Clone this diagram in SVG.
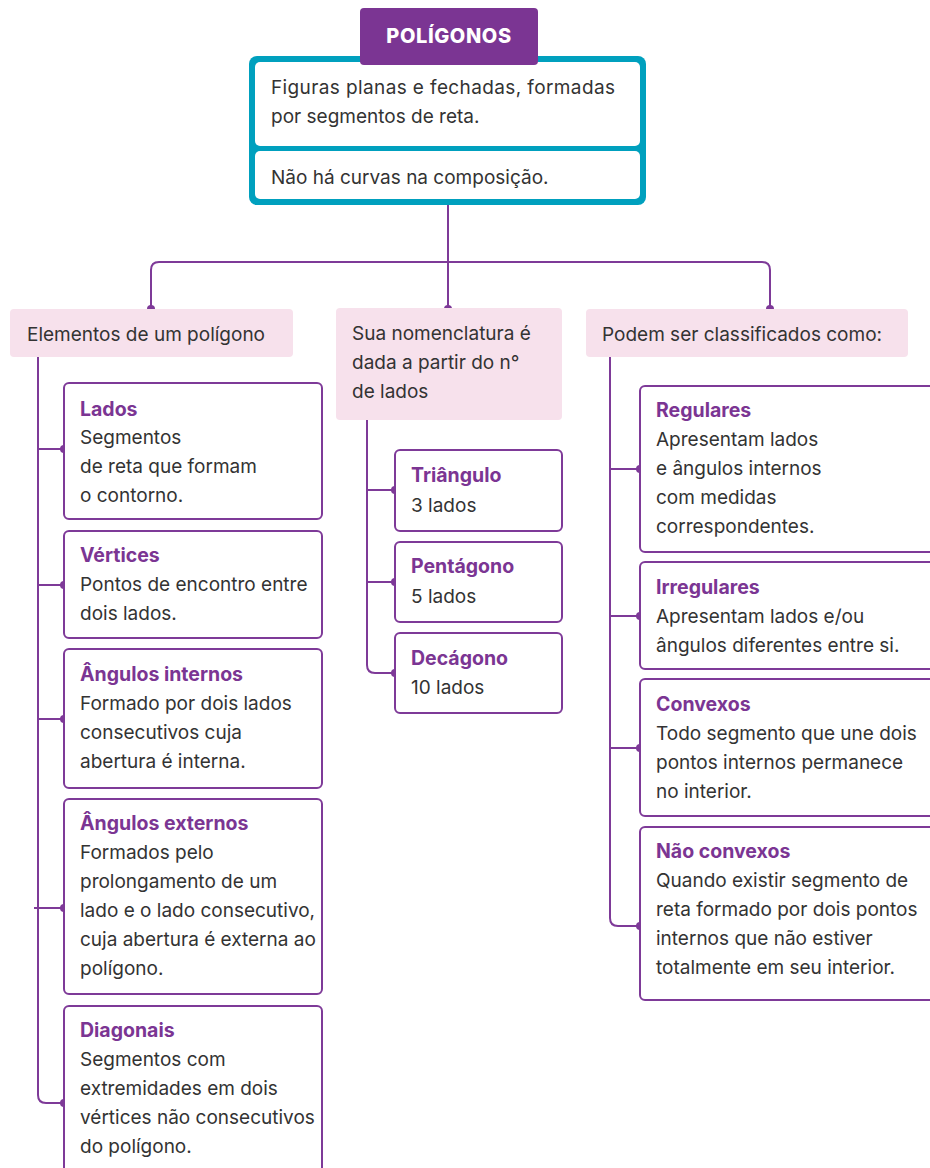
<svg xmlns="http://www.w3.org/2000/svg" width="930" height="1168" viewBox="0 0 930 1168">
<style>
.t{font-family:Inter,"Noto Sans",sans-serif;font-size:19px;fill:#333333}
.h{font-family:Inter,"Noto Sans",sans-serif;font-size:19.5px;font-weight:700;fill:#7B3593}
.box{fill:#ffffff;stroke:#7E3A98;stroke-width:2}
.pink{fill:#F7E1EC}
.ln{fill:none;stroke:#7E3A98;stroke-width:2}
.dot{fill:#7E3A98}
</style>
<rect width="930" height="1168" fill="#ffffff"/>
<g id="connectors">
<path class="ln" d="M448 205 V262 M151 309 V270 Q151 262 159 262 H762 Q770 262 770 270 V309 M448 262 V309"/>
<circle class="dot" cx="151" cy="309" r="4"/>
<circle class="dot" cx="448" cy="309" r="4"/>
<circle class="dot" cx="770" cy="309" r="4"/>
<path class="ln" d="M38 357 V1095 Q38 1103 46 1103 H64 M38 449 H64 M38 585 H64 M38 719 H64 M34 908 H64"/>
<circle class="dot" cx="64" cy="449" r="4"/>
<circle class="dot" cx="64" cy="585" r="4"/>
<circle class="dot" cx="64" cy="719" r="4"/>
<circle class="dot" cx="64" cy="908" r="4"/>
<circle class="dot" cx="64" cy="1103" r="4"/>
<path class="ln" d="M367 420 V665 Q367 673 375 673 H395 M367 490 H395 M367 582 H395"/>
<circle class="dot" cx="395" cy="490" r="4"/>
<circle class="dot" cx="395" cy="582" r="4"/>
<circle class="dot" cx="395" cy="673" r="4"/>
<path class="ln" d="M610 357 V918 Q610 926 618 926 H640 M610 469 H640 M610 616 H640 M610 748 H640"/>
<circle class="dot" cx="640" cy="469" r="4"/>
<circle class="dot" cx="640" cy="616" r="4"/>
<circle class="dot" cx="640" cy="748" r="4"/>
<circle class="dot" cx="640" cy="926" r="4"/>
</g>
<g id="poligonos">
<rect x="249" y="56" width="397" height="149" rx="8" fill="#00A0BE"/>
<rect x="255" y="62" width="385" height="84" rx="5" fill="#ffffff"/>
<rect x="255" y="151" width="385" height="48" rx="5" fill="#ffffff"/>
<rect x="360" y="8" width="178" height="57" rx="4" fill="#7B3593"/>
<text x="449" y="43" text-anchor="middle" style="font-family:Inter,'Noto Sans',sans-serif;font-size:20px;font-weight:800;fill:#ffffff;letter-spacing:0.6px">POLÍGONOS</text>
<text class="t" x="271" y="94" textLength="344">Figuras planas e fechadas, formadas</text>
<text class="t" x="271" y="123">por segmentos de reta.</text>
<text class="t" x="271" y="184">Não há curvas na composição.</text>
</g>
<g id="elementos">
<rect class="pink" x="10" y="309" width="283" height="48" rx="4"/>
<text class="t" x="27" y="341">Elementos de um polígono</text>
</g>
<g id="lados">
<rect class="box" x="64" y="383" width="258" height="136" rx="5"/>
<text class="h" x="80" y="416">Lados</text>
<text class="t" x="80" y="444">Segmentos</text>
<text class="t" x="80" y="473">de reta que formam</text>
<text class="t" x="80" y="502">o contorno.</text>
</g>
<g id="vertices">
<rect class="box" x="64" y="531" width="258" height="107" rx="5"/>
<text class="h" x="80" y="562">Vértices</text>
<text class="t" x="80" y="591">Pontos de encontro entre</text>
<text class="t" x="80" y="620">dois lados.</text>
</g>
<g id="angulos-internos">
<rect class="box" x="64" y="649" width="258" height="139" rx="5"/>
<text class="h" x="80" y="681">Ângulos internos</text>
<text class="t" x="80" y="710">Formado por dois lados</text>
<text class="t" x="80" y="739">consecutivos cuja</text>
<text class="t" x="80" y="768">abertura é interna.</text>
</g>
<g id="angulos-externos">
<rect class="box" x="64" y="799" width="258" height="195" rx="5"/>
<text class="h" x="80" y="830">Ângulos externos</text>
<text class="t" x="80" y="859">Formados pelo</text>
<text class="t" x="80" y="888">prolongamento de um</text>
<text class="t" x="80" y="917">lado e o lado consecutivo,</text>
<text class="t" x="80" y="946">cuja abertura é externa ao</text>
<text class="t" x="80" y="975">polígono.</text>
</g>
<g id="diagonais">
<rect class="box" x="64" y="1006" width="258" height="180" rx="5"/>
<text class="h" x="80" y="1037">Diagonais</text>
<text class="t" x="80" y="1066">Segmentos com</text>
<text class="t" x="80" y="1095">extremidades em dois</text>
<text class="t" x="80" y="1124">vértices não consecutivos</text>
<text class="t" x="80" y="1153">do polígono.</text>
</g>
<g id="nomenclatura">
<rect class="pink" x="336" y="308" width="226" height="112" rx="4"/>
<text class="t" x="352" y="340">Sua nomenclatura é</text>
<text class="t" x="352" y="369">dada a partir do n°</text>
<text class="t" x="352" y="398">de lados</text>
</g>
<g id="triangulo">
<rect class="box" x="395" y="450" width="167" height="81" rx="5"/>
<text class="h" x="411" y="482">Triângulo</text>
<text class="t" x="411" y="512">3 lados</text>
</g>
<g id="pentagono">
<rect class="box" x="395" y="542" width="167" height="80" rx="5"/>
<text class="h" x="411" y="573">Pentágono</text>
<text class="t" x="411" y="603">5 lados</text>
</g>
<g id="decagono">
<rect class="box" x="395" y="633" width="167" height="80" rx="5"/>
<text class="h" x="411" y="665">Decágono</text>
<text class="t" x="411" y="694">10 lados</text>
</g>
<g id="classificados">
<rect class="pink" x="586" y="309" width="322" height="48" rx="4"/>
<text class="t" x="602" y="341">Podem ser classificados como:</text>
</g>
<g id="regulares">
<rect class="box" x="640" y="386" width="300" height="166" rx="5"/>
<text class="h" x="656" y="417">Regulares</text>
<text class="t" x="656" y="446">Apresentam lados</text>
<text class="t" x="656" y="475">e ângulos internos</text>
<text class="t" x="656" y="504">com medidas</text>
<text class="t" x="656" y="533">correspondentes.</text>
</g>
<g id="irregulares">
<rect class="box" x="640" y="562" width="300" height="107" rx="5"/>
<text class="h" x="656" y="594">Irregulares</text>
<text class="t" x="656" y="623">Apresentam lados e/ou</text>
<text class="t" x="656" y="652">ângulos diferentes entre si.</text>
</g>
<g id="convexos">
<rect class="box" x="640" y="679" width="300" height="137" rx="5"/>
<text class="h" x="656" y="711">Convexos</text>
<text class="t" x="656" y="740">Todo segmento que une dois</text>
<text class="t" x="656" y="769">pontos internos permanece</text>
<text class="t" x="656" y="798">no interior.</text>
</g>
<g id="nao-convexos">
<rect class="box" x="640" y="827" width="300" height="173" rx="5"/>
<text class="h" x="656" y="858">Não convexos</text>
<text class="t" x="656" y="887">Quando existir segmento de</text>
<text class="t" x="656" y="916">reta formado por dois pontos</text>
<text class="t" x="656" y="945">internos que não estiver</text>
<text class="t" x="656" y="974">totalmente em seu interior.</text>
</g>
</svg>
